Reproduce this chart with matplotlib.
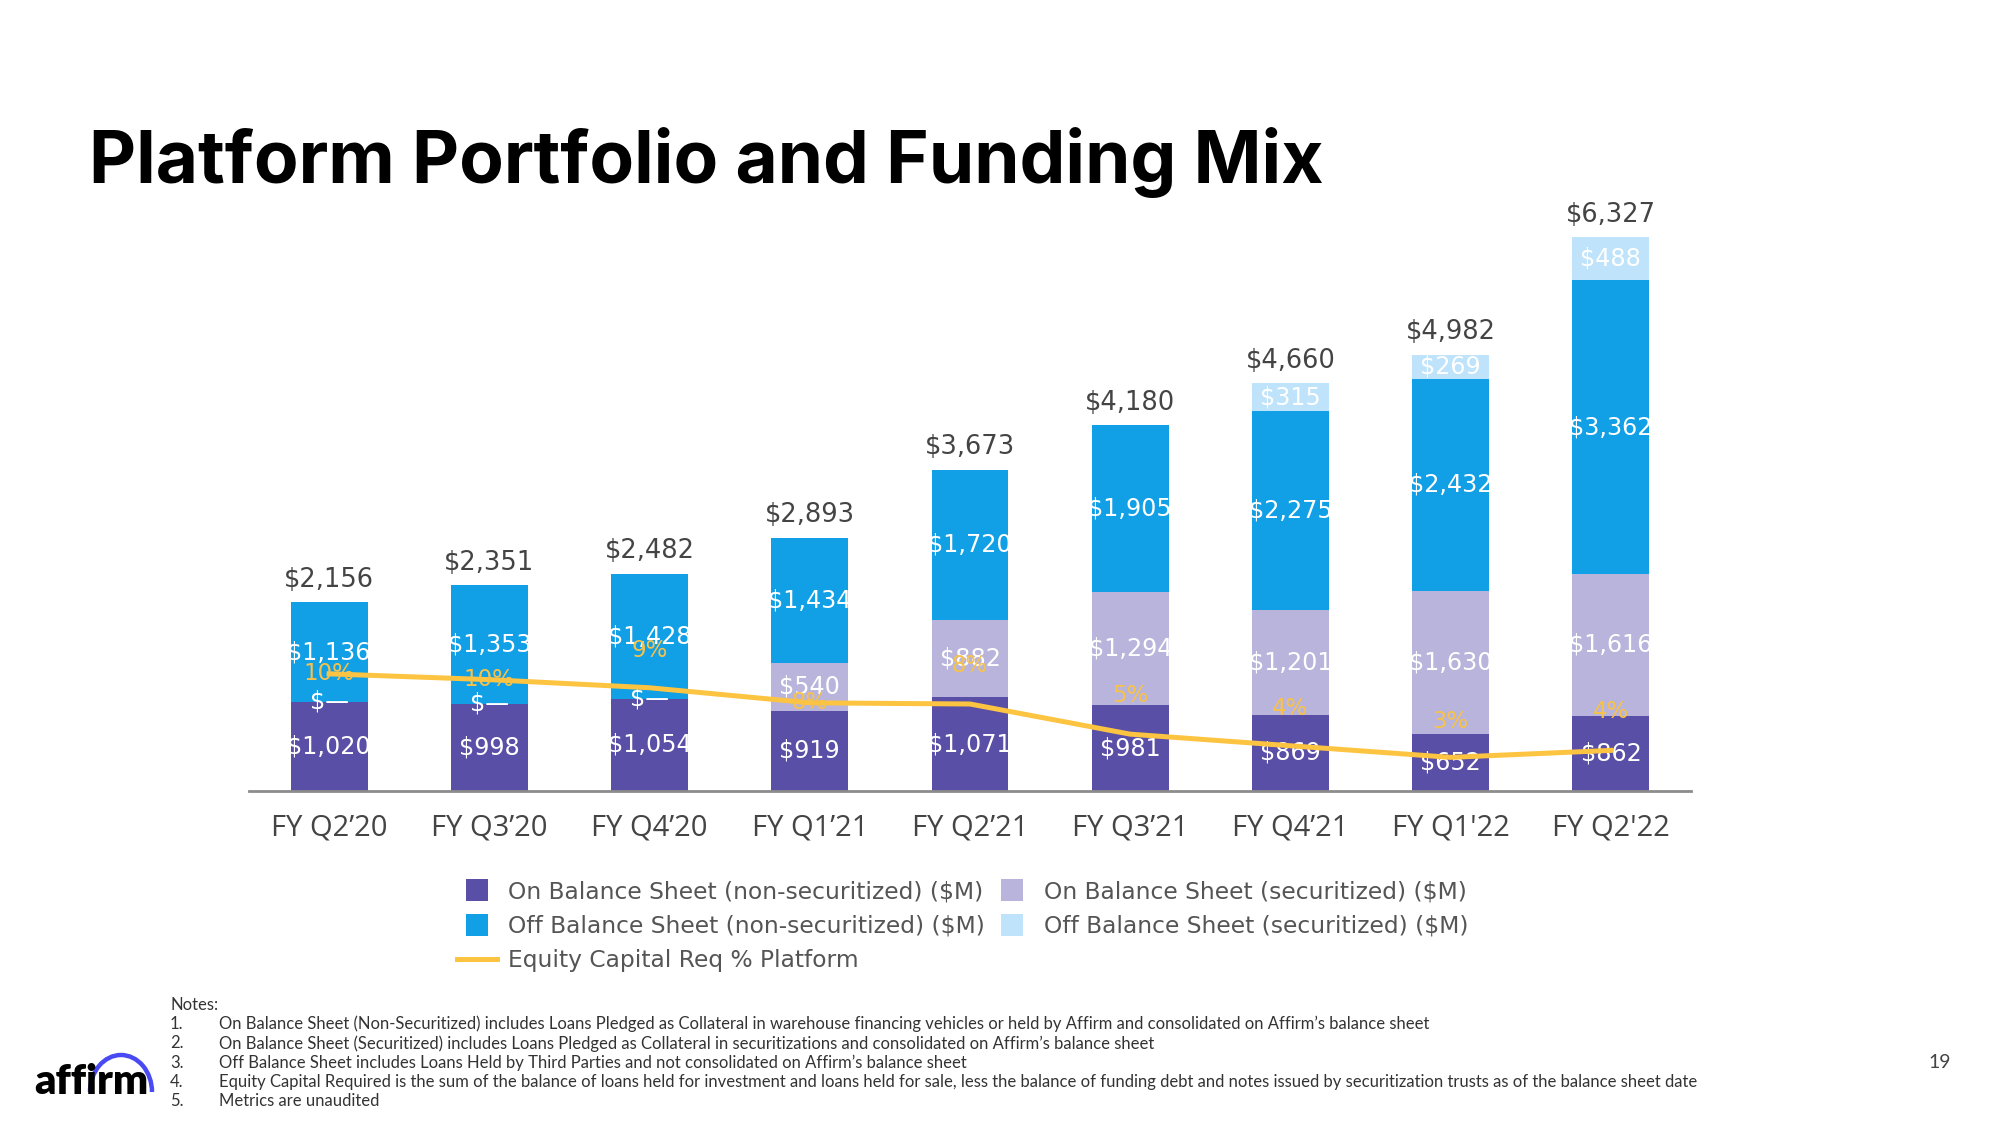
import matplotlib
matplotlib.use("Agg")
import matplotlib.pyplot as plt
from matplotlib.lines import Line2D
from matplotlib.patches import Rectangle, Arc

# ---------------- data ----------------
categories = ["FY Q2’20", "FY Q3’20", "FY Q4’20", "FY Q1’21", "FY Q2’21",
              "FY Q3’21", "FY Q4’21", "FY Q1'22", "FY Q2'22"]
on_nonsec = [1020, 998, 1054, 919, 1071, 981, 869, 652, 862]
on_sec = [0, 0, 0, 540, 882, 1294, 1201, 1630, 1616]
off_nonsec = [1136, 1353, 1428, 1434, 1720, 1905, 2275, 2432, 3362]
off_sec = [0, 0, 0, 0, 0, 0, 315, 269, 488]
totals = [2156, 2351, 2482, 2893, 3673, 4180, 4660, 4982, 6327]
equity_pct = [10.1, 9.6, 8.9, 7.6, 7.5, 4.9, 3.9, 2.9, 3.5]

series_names = ["On Balance Sheet (non-securitized) ($M)",
                "On Balance Sheet (securitized) ($M)",
                "Off Balance Sheet (non-securitized) ($M)",
                "Off Balance Sheet (securitized) ($M)"]
line_name = "Equity Capital Req % Platform"

notes = [
    "On Balance Sheet (Non-Securitized) includes Loans Pledged as Collateral in warehouse financing vehicles or held by Affirm and consolidated on Affirm’s balance sheet",
    "On Balance Sheet (Securitized) includes Loans Pledged as Collateral in securitizations and consolidated on Affirm’s balance sheet",
    "Off Balance Sheet includes Loans Held by Third Parties and not consolidated on Affirm’s balance sheet",
    "Equity Capital Required is the sum of the balance of loans held for investment and loans held for sale, less the balance of funding debt and notes issued by securitization trusts as of the balance sheet date",
    "Metrics are unaudited",
]

# ---------------- style ----------------
colors = ["#5A4FA6", "#B9B4DB", "#119FE6", "#BEE3FA"]
line_color = "#FDC441"
pct_color = "#F7C24A"
W, H = 2000, 1125

fig = plt.figure(figsize=(20, 11.25), dpi=100)
fig.patch.set_facecolor("white")


def fx(px):
    return px / W


def fy(py):
    return 1 - py / H


ax = fig.add_axes([fx(249), fy(791), fx(1691) - fx(249), fy(150) - fy(791)])
ymax = 641 / 0.0875
ax.set_xlim(-0.5, len(categories) - 0.5)
ax.set_ylim(0, ymax)

x = list(range(len(categories)))
bw = 0.48
series = [on_nonsec, on_sec, off_nonsec, off_sec]
bottoms = [0] * len(categories)
for si, (vals, c) in enumerate(zip(series, colors)):
    ax.bar(x, vals, width=bw, bottom=bottoms, color=c, linewidth=0, zorder=2)
    for i, v in enumerate(vals):
        if v == 0 and si != 1:
            continue
        lbl = "$—" if v == 0 else f"${v:,}"
        yc = bottoms[i] + v / 2
        t = ax.text(i, yc, lbl, ha="center", va="center", color="white",
                    fontsize=17.2, family="DejaVu Sans", zorder=4)
        clip = Rectangle((i - bw / 2, 0), bw, ymax, transform=ax.transData,
                         visible=False)
        ax.add_patch(clip)
        t.set_clip_path(clip)
        t.set_clip_on(True)
    bottoms = [b + v for b, v in zip(bottoms, vals)]

for i, tot in enumerate(totals):
    ax.annotate(f"${tot:,}", (i, bottoms[i]), xytext=(0, 7), textcoords="offset points",
                ha="center", va="bottom", fontsize=18.5, color="#444444",
                family="DejaVu Sans")

for s in ["top", "left", "right"]:
    ax.spines[s].set_visible(False)
ax.spines["bottom"].set_color("#8C8C8C")
ax.spines["bottom"].set_linewidth(2)
ax.set_yticks([])
ax.set_xticks(x)
ax.set_xticklabels(categories, fontsize=21, color="#444444", family="Open Sans")
ax.tick_params(axis="x", length=0, pad=16)

ax2 = ax.twinx()
ax2.set_ylim(0, 641 / 11.6)
ax2.set_yticks([])
for s in ax2.spines.values():
    s.set_visible(False)
ax2.plot(x, equity_pct, color=line_color, lw=3.6, zorder=3, solid_joinstyle="round")
label_offsets = [0, 0, 27, 0, 28, 28, 27, 26, 28]
for i, p in enumerate(equity_pct):
    ax2.annotate(f"{p:.0f}%", (i, p), xytext=(0, label_offsets[i]),
                 textcoords="offset points", ha="center", va="center",
                 fontsize=16.5, color=pct_color, family="DejaVu Sans", zorder=5)

# legend
ms = 16
handles = [
    Line2D([], [], marker="s", ls="none", ms=ms, mfc=colors[0], mew=0),
    Line2D([], [], marker="s", ls="none", ms=ms, mfc=colors[2], mew=0),
    Line2D([], [], color=line_color, lw=3.6),
    Line2D([], [], marker="s", ls="none", ms=ms, mfc=colors[1], mew=0),
    Line2D([], [], marker="s", ls="none", ms=ms, mfc=colors[3], mew=0),
]
labels = [series_names[0], series_names[2], line_name, series_names[1], series_names[3]]
leg = fig.legend(handles, labels, loc="upper left", bbox_to_anchor=(fx(457), fy(880)),
                 ncol=2, frameon=False, prop={"family": "DejaVu Sans", "size": 16.8},
                 handlelength=1.7, handletextpad=0.5, columnspacing=0.3,
                 labelspacing=0.5, borderpad=0, borderaxespad=0)
for t in leg.get_texts():
    t.set_color("#555555")

# title
fig.text(fx(89), fy(162), "Platform Portfolio and Funding Mix", fontsize=52.5,
         fontweight="bold", family="Inter", color="black", ha="left", va="center")

# notes
nfs = 12.0
fig.text(fx(170), fy(1005), "Notes:", fontsize=nfs, family="Lato", color="#333333",
         ha="left", va="center")
for k, n in enumerate(notes):
    yy = 1024 + k * 19.3
    fig.text(fx(170), fy(yy), f"{k + 1}.", fontsize=nfs, family="Lato",
             color="#333333", ha="left", va="center")
    fig.text(fx(219), fy(yy), n, fontsize=nfs, family="Lato", color="#333333",
             ha="left", va="center")

# page number
fig.text(fx(1940), fy(1062), "19", fontsize=14, family="Lato", color="#444444",
         ha="center", va="center")

# logo
fig.text(fx(34), fy(1094), "affirm", fontsize=30, fontweight="heavy", family="Lato",
         color="black", ha="left", va="baseline")
arc = Arc((fx(121), fy(1092)), fx(62), 74 / H, theta1=0, theta2=180,
          transform=fig.transFigure, color="#4A4AF4", lw=3.2)
fig.add_artist(arc)

fig.savefig("out.png", dpi=100, facecolor="white")
